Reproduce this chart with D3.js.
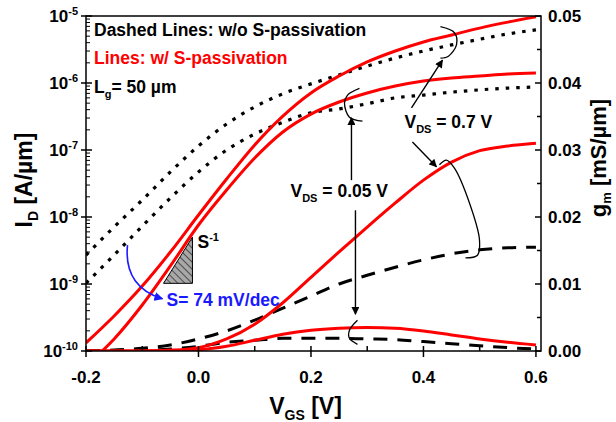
<!DOCTYPE html>
<html>
<head>
<meta charset="utf-8">
<script src="https://cdn.jsdelivr.net/npm/d3@7"></script>
<style>
    body { margin: 0; background: #fff; }
    svg { display: block; font-family: Arial, 'Liberation Sans', sans-serif; font-weight: bold; }
</style>
</head>
<body>
<svg id="chart" width="616" height="422"></svg>
<script>
// gate voltage grid [V]
var vgs = [-0.2, -0.15, -0.1, -0.05, 0, 0.05, 0.1, 0.15, 0.2, 0.25, 0.3, 0.35, 0.4, 0.45, 0.5, 0.55, 0.6];

// drain current [A/um], solid = with S-passivation, dotted = without
var idSolid07 = [1.32e-10, 3.33e-10, 9.3e-10, 3.0e-9, 1.07e-8, 3.69e-8, 1.19e-7, 3.2e-7, 7.1e-7, 1.27e-6, 2.06e-6, 3.0e-6, 4.1e-6, 5.2e-6, 6.6e-6, 8.1e-6, 9.7e-6];
var idSolid005 = [6e-11, 1.51e-10, 4.86e-10, 1.86e-9, 7.6e-9, 2.53e-8, 7.6e-8, 1.86e-7, 3.44e-7, 5.2e-7, 7.1e-7, 9.0e-7, 1.07e-6, 1.19e-6, 1.27e-6, 1.36e-6, 1.41e-6];
var idDot07 = [2.7e-9, 7.1e-9, 1.79e-8, 4.7e-8, 1.15e-7, 2.44e-7, 4.4e-7, 6.9e-7, 9.7e-7, 1.32e-6, 1.79e-6, 2.36e-6, 3.0e-6, 3.7e-6, 4.5e-6, 5.4e-6, 6.2e-6];
var idDot005 = [1.03e-9, 2.7e-9, 7.3e-9, 1.92e-8, 4.7e-8, 1.0e-7, 1.73e-7, 2.6e-7, 3.6e-7, 4.1e-7, 4.9e-7, 6.0e-7, 6.6e-7, 7.3e-7, 7.9e-7, 8.4e-7, 8.7e-7];

// transconductance [mS/um], solid = with S-passivation, dashed = without
var gmSolid07 = [0, 0, 0, 0.0001, 0.0005, 0.0018, 0.0040, 0.0072, 0.0110, 0.0148, 0.0185, 0.0221, 0.0255, 0.0282, 0.0299, 0.0306, 0.0310];
var gmSolid005 = [0, 0, 0, 0.0001, 0.0002, 0.0007, 0.0016, 0.0025, 0.0031, 0.0034, 0.0035, 0.0034, 0.0030, 0.0024, 0.0018, 0.0013, 0.0009];
var gmDash07 = [0, 0.00015, 0.0004, 0.0009, 0.0018, 0.0030, 0.0046, 0.0064, 0.0082, 0.0100, 0.0113, 0.0125, 0.0136, 0.0145, 0.0151, 0.0154, 0.0155];
var gmDash005 = [0, 0, 0.0001, 0.0003, 0.0007, 0.0013, 0.0016, 0.0019, 0.0019, 0.0019, 0.0018, 0.0017, 0.0014, 0.0011, 0.0008, 0.0005, 0.0003];

// tick values
var xTicks = [-0.2, 0, 0.2, 0.4, 0.6];
var xMinorTicks = [-0.1, 0.1, 0.3, 0.5];
var idExponents = [-10, -9, -8, -7, -6, -5];
var gmTicks = [0, 0.01, 0.02, 0.03, 0.04, 0.05];
var gmMinorTicks = [0.005, 0.015, 0.025, 0.035, 0.045];

(function (d3) {
    var W = 616, H = 422,
        m = { left: 86, top: 16, right: 75, bottom: 71 },
        svg = d3.select('#chart'),
        RED = '#ff0000', BLUE = '#1a1aff';

    var x = d3.scaleLinear().domain([-0.2, 0.609]).range([m.left, W - m.right]),
        yL = d3.scaleLog().domain([1e-10, 1e-5]).range([H - m.bottom, m.top]),
        yR = d3.scaleLinear().domain([0, 0.05]).range([H - m.bottom, m.top]);

    // annotation point in (V, gm) data space
    function P(v, g) { return [x(v), yR(g)]; }

    var defs = svg.append('defs');
    defs.append('clipPath').attr('id', 'plotClip')
        .append('rect')
        .attr('x', m.left).attr('y', m.top)
        .attr('width', W - m.left - m.right).attr('height', H - m.top - m.bottom);

    defs.append('marker').attr('id', 'arrowK')
        .attr('viewBox', '0 0 10 10').attr('refX', 9).attr('refY', 5)
        .attr('markerUnits', 'userSpaceOnUse')
        .attr('markerWidth', 9).attr('markerHeight', 8).attr('orient', 'auto')
        .append('path').attr('d', 'M0,0L10,5L0,10Z').attr('fill', '#000');
    defs.append('marker').attr('id', 'arrowB')
        .attr('viewBox', '0 0 10 10').attr('refX', 9).attr('refY', 5)
        .attr('markerUnits', 'userSpaceOnUse')
        .attr('markerWidth', 9).attr('markerHeight', 9).attr('orient', 'auto')
        .append('path').attr('d', 'M0,0L10,5L0,10Z').attr('fill', BLUE);

    // "\" hatching for the slope triangle
    var hatch = defs.append('pattern').attr('id', 'hatch')
        .attr('patternUnits', 'userSpaceOnUse').attr('width', 5).attr('height', 5)
        .attr('patternTransform', 'rotate(-45)');
    hatch.append('rect').attr('width', 5).attr('height', 5).attr('fill', '#a8a8a8');
    hatch.append('line').attr('x1', 0).attr('y1', 0).attr('x2', 0).attr('y2', 5)
        .attr('stroke', '#000').attr('stroke-width', 1.1);

    // curves
    var plot = svg.append('g').attr('clip-path', 'url(#plotClip)');

    function drawCurve(vals, yScale, color, dash, width) {
        var line = d3.line()
            .x(function (d, i) { return x(vgs[i]); })
            .y(function (d) { return yScale(d); })
            .curve(d3.curveMonotoneX);
        plot.append('path')
            .datum(vals)
            .attr('d', line)
            .attr('fill', 'none')
            .attr('stroke', color)
            .attr('stroke-width', width || 3)
            .attr('stroke-dasharray', dash || null);
    }

    drawCurve(idDot07, yL, '#000', '3.5 7', 3.2);
    drawCurve(idDot005, yL, '#000', '3.5 7', 3.2);
    drawCurve(gmDash07, yR, '#000', '14 10', 3);
    drawCurve(gmDash005, yR, '#000', '14 10', 3);
    drawCurve(idSolid07, yL, RED);
    drawCurve(idSolid005, yL, RED);
    drawCurve(gmSolid07, yR, RED);
    drawCurve(gmSolid005, yR, RED);

    // frame
    var axes = svg.append('g').attr('stroke', '#000').attr('stroke-width', 1.5);
    axes.append('rect')
        .attr('x', m.left).attr('y', m.top)
        .attr('width', W - m.left - m.right).attr('height', H - m.top - m.bottom)
        .attr('fill', 'none');

    var y0 = H - m.bottom, xr = W - m.right;

    // bottom ticks: major out, all in
    xTicks.forEach(function (t) {
        axes.append('line').attr('x1', x(t)).attr('x2', x(t)).attr('y1', y0).attr('y2', y0 + 6);
        axes.append('line').attr('x1', x(t)).attr('x2', x(t)).attr('y1', y0).attr('y2', y0 - 5);
    });
    xMinorTicks.forEach(function (t) {
        axes.append('line').attr('x1', x(t)).attr('x2', x(t)).attr('y1', y0).attr('y2', y0 - 5);
    });

    // left log ticks
    idExponents.forEach(function (e) {
        var v = Math.pow(10, e), k;
        axes.append('line').attr('x1', m.left - 5).attr('x2', m.left + 6).attr('y1', yL(v)).attr('y2', yL(v));
        if (e < -5) {
            for (k = 2; k <= 9; k++) {
                axes.append('line').attr('x1', m.left).attr('x2', m.left + 4)
                    .attr('y1', yL(k * v)).attr('y2', yL(k * v)).attr('stroke-width', 1);
            }
        }
    });

    // right ticks (inside)
    gmTicks.forEach(function (t) {
        axes.append('line').attr('x1', xr - 6).attr('x2', xr).attr('y1', yR(t)).attr('y2', yR(t));
    });
    gmMinorTicks.forEach(function (t) {
        axes.append('line').attr('x1', xr - 4).attr('x2', xr).attr('y1', yR(t)).attr('y2', yR(t));
    });

    // tick labels
    var fmtX = function (d) { return d3.format('.1f')(d).replace('\u2212', '-'); };
    svg.append('g').selectAll('text').data(xTicks).enter().append('text')
        .attr('x', function (d) { return x(d); })
        .attr('y', y0 + 32)
        .attr('text-anchor', 'middle')
        .attr('font-size', 17)
        .text(fmtX);

    var left = svg.append('g').selectAll('text').data(idExponents).enter().append('text')
        .attr('x', m.left - 8)
        .attr('y', function (d) { return yL(Math.pow(10, d)) + 6; })
        .attr('text-anchor', 'end')
        .attr('font-size', 17);
    left.append('tspan').text('10');
    left.append('tspan').attr('dy', -7).attr('font-size', 11).text(function (d) { return d; });

    svg.append('g').selectAll('text').data(gmTicks).enter().append('text')
        .attr('x', xr + 7)
        .attr('y', function (d) { return yR(d) + 6; })
        .attr('font-size', 17)
        .text(d3.format('.2f'));

    // axis titles
    var tl = svg.append('text')
        .attr('transform', 'translate(32,180) rotate(-90)')
        .attr('text-anchor', 'middle').attr('font-size', 23);
    tl.append('tspan').text('I');
    tl.append('tspan').attr('dy', 6).attr('font-size', 14).text('D');
    tl.append('tspan').attr('dy', -6).text(' [A/\u00b5m]');

    var tr = svg.append('text')
        .attr('transform', 'translate(606,158) rotate(-90)')
        .attr('text-anchor', 'middle').attr('font-size', 22);
    tr.append('tspan').text('g');
    tr.append('tspan').attr('dy', 5).attr('font-size', 13).text('m');
    tr.append('tspan').attr('dy', -5).text(' [mS/\u00b5m]');

    var tb = svg.append('text')
        .attr('x', (m.left + xr) / 2 - 8).attr('y', 414)
        .attr('text-anchor', 'middle').attr('font-size', 23);
    tb.append('tspan').text('V');
    tb.append('tspan').attr('dy', 6).attr('font-size', 14).text('GS');
    tb.append('tspan').attr('dy', -6).text(' [V]');

    // legend notes
    var note = svg.append('g').attr('font-size', 17.5);
    note.append('text').attr('x', m.left + 8).attr('y', m.top + 20)
        .text('Dashed Lines: w/o S-passivation');
    note.append('text').attr('x', m.left + 8).attr('y', m.top + 48).attr('fill', RED)
        .text('Lines: w/ S-passivation');
    var lg = note.append('text').attr('x', m.left + 8).attr('y', m.top + 77);
    lg.append('tspan').text('L');
    lg.append('tspan').attr('dy', 5).attr('font-size', 11).text('g');
    lg.append('tspan').attr('dy', -5).text('= 50 \u00b5m');

    // subthreshold slope triangle
    var tri = [P(-0.0107, 0.0170), P(-0.0622, 0.0101), P(-0.0107, 0.0101)];
    svg.append('path')
        .attr('d', 'M' + tri.join('L') + 'Z')
        .attr('fill', 'url(#hatch)').attr('stroke', '#000').attr('stroke-width', 1);
    var sInv = P(-0.0018, 0.0154);
    var st = svg.append('text').attr('x', sInv[0]).attr('y', sInv[1]).attr('font-size', 17.5);
    st.append('tspan').text('S');
    st.append('tspan').attr('dy', -7).attr('font-size', 11).text('-1');

    // blue arrow to slope value
    var b0 = P(-0.1262, 0.0158), b1 = P(-0.1316, 0.0113), b2 = P(-0.1049, 0.0088), b3 = P(-0.064, 0.0078);
    svg.append('path')
        .attr('d', 'M' + b0 + 'C' + b1 + ' ' + b2 + ' ' + b3)
        .attr('fill', 'none').attr('stroke', BLUE).attr('stroke-width', 1.6)
        .attr('marker-end', 'url(#arrowB)');
    var sv = P(-0.0569, 0.0067);
    svg.append('text').attr('x', sv[0]).attr('y', sv[1]).attr('font-size', 17.5)
        .attr('fill', BLUE).text('S= 74 mV/dec');

    // V_DS labels
    function vdsLabel(p, val) {
        var t = svg.append('text').attr('x', p[0]).attr('y', p[1]).attr('font-size', 17.5);
        t.append('tspan').text('V');
        t.append('tspan').attr('dy', 5).attr('font-size', 11).text('DS');
        t.append('tspan').attr('dy', -5).text(' = ' + val + ' V');
    }
    vdsLabel(P(0.3662, 0.0333), '0.7');
    vdsLabel(P(0.1636, 0.0230), '0.05');

    // arrows
    var ann = svg.append('g').attr('fill', 'none').attr('stroke', '#000').attr('stroke-width', 1.4);
    function arrow(a, b) {
        ann.append('path').attr('d', 'M' + a + 'L' + b).attr('marker-end', 'url(#arrowK)');
    }
    arrow(P(0.272, 0.0255), P(0.272, 0.0348));
    arrow(P(0.2791, 0.0210), P(0.2791, 0.0055));
    arrow(P(0.3787, 0.0363), P(0.4338, 0.0434));
    arrow(P(0.3804, 0.0312), P(0.4231, 0.0275));

    // hand-drawn brackets
    var bracket = d3.line().curve(d3.curveCatmullRom);
    function brace(pts) {
        ann.append('path').attr('d', bracket(pts)).attr('stroke-width', 1.3);
    }
    brace([P(0.2862, 0.0392), P(0.2650, 0.0382), P(0.2596, 0.0370), P(0.2684, 0.0349), P(0.2916, 0.0343)]);
    brace([P(0.4302, 0.0484), P(0.4551, 0.0475), P(0.4587, 0.0457), P(0.4444, 0.0440), P(0.4302, 0.0437)]);
    brace([P(0.2827, 0.0046), P(0.2684, 0.0031), P(0.2684, 0.0019), P(0.2827, 0.0010)]);
    brace([P(0.4284, 0.0278), P(0.4409, 0.0285), P(0.4551, 0.0273), P(0.4818, 0.0221),
           P(0.4996, 0.0166), P(0.4960, 0.0143), P(0.4747, 0.0139)]);
}(window.d3));
</script>
</body>
</html>
